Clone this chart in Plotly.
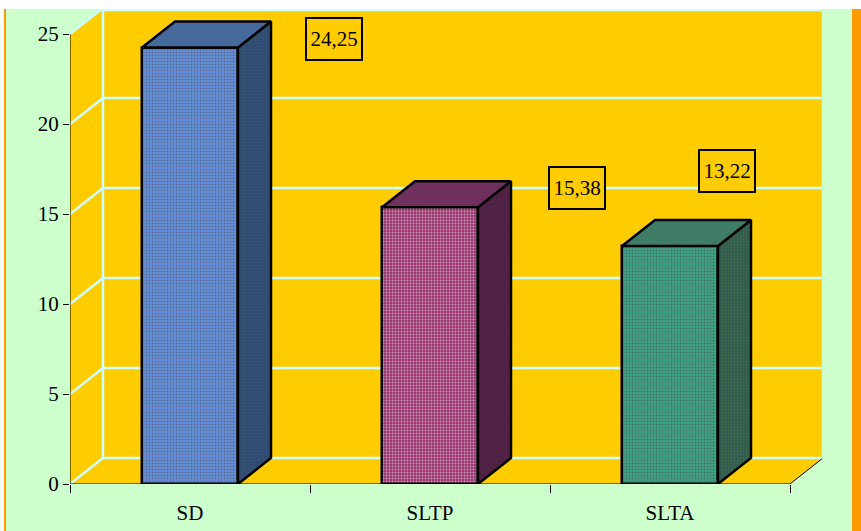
import plotly.graph_objects as go

# Data
categories = ["SD", "SLTP", "SLTA"]
values = [24.25, 15.38, 13.22]
y_ticks = [0, 5, 10, 15, 20, 25]

# Styling
front_colors = ["#6490DA", "#99366F", "#3FA386"]
front_dots = ["#4E96BC", "#A8458A", "#B8BE48"]
side_colors = ["#2F4A6E", "#4E2042", "#2E5C50"]
side_dots = ["#3C6488", "#602A54", "#5E7A48"]
top_colors = ["#46699B", "#70305E", "#3E7C66"]
label_dx = [0.60, 0.6125, 0.2375]    # label offset from bar centre (x units)
label_yshift = [8.5, 19, 75]         # label offset above bar value (px)

W, H = 861, 531
L, R, T, B = 70, 39, 9, 47
plot_w, plot_h = W - L - R, H - T - B
px_per_x = 240.0
px_per_y = 18.0
x0 = -0.5
x_max = x0 + plot_w / px_per_x
y_max = plot_h / px_per_y

# depth of the 3D box (px) converted to data units
DX = 33 / px_per_x
DY = 26 / px_per_y

WALL = "#FFCC00"
GRID = "#CCFFFF"
BG = "#CCFFCC"
ORANGE = "#FF9900"
FONT = "Liberation Serif, Times New Roman, serif"
FS = 21

n = len(categories)
x_end = x0 + n
wall_top = (plot_h - 1) / px_per_y

shapes = []


def poly(pts):
    return "M " + " L ".join(f"{a},{b}" for a, b in pts) + " Z"


# back wall
shapes.append(dict(type="rect", xref="x", yref="y", x0=x0 + DX, x1=x_end + DX,
                   y0=DY, y1=wall_top, fillcolor=WALL, line_width=0, layer="below"))
# side wall
shapes.append(dict(type="path", xref="x", yref="y",
                   path=poly([(x0, 0), (x0, y_ticks[-1]), (x0 + DX, y_ticks[-1] + DY), (x0 + DX, DY)]),
                   fillcolor=WALL, line_width=0, layer="below"))
# floor
shapes.append(dict(type="path", xref="x", yref="y",
                   path=poly([(x0, 0), (x_end, 0), (x_end + DX, DY), (x0 + DX, DY)]),
                   fillcolor=WALL, line_width=0, layer="below"))

# gridlines on back wall and side wall
for v in y_ticks:
    shapes.append(dict(type="line", xref="x", yref="y", x0=x0 + DX, x1=x_end + DX,
                       y0=v + DY, y1=v + DY, line=dict(color=GRID, width=2.5), layer="below"))
    shapes.append(dict(type="line", xref="x", yref="y", x0=x0, x1=x0 + DX,
                       y0=v, y1=v + DY, line=dict(color=GRID, width=2.5), layer="below"))
# wall edges
shapes.append(dict(type="line", xref="x", yref="y", x0=x0 + DX, x1=x0 + DX,
                   y0=DY, y1=y_max, line=dict(color=GRID, width=2.5), layer="below"))
shapes.append(dict(type="line", xref="x", yref="y", x0=x_end + DX, x1=x_end + DX,
                   y0=DY, y1=y_max, line=dict(color=GRID, width=2.5), layer="below"))
shapes.append(dict(type="line", xref="x", yref="y", x0=x0 + DX, x1=x_end + DX,
                   y0=wall_top, y1=wall_top, line=dict(color=GRID, width=2.5), layer="below"))
# floor right edge
shapes.append(dict(type="line", xref="x", yref="y", x0=x_end, x1=x_end + DX,
                   y0=0, y1=DY, line=dict(color="black", width=1), layer="below"))
# front axes
shapes.append(dict(type="line", xref="x", yref="y", x0=x0, x1=x0, y0=0, y1=y_ticks[-1],
                   line=dict(color="black", width=1), layer="below"))
shapes.append(dict(type="line", xref="x", yref="y", x0=x0, x1=x_end, y0=0, y1=0,
                   line=dict(color="black", width=1), layer="below"))


# page frame
def fx(p):
    return (p - L) / plot_w


def fy(p):
    return (H - B - p) / plot_h


for (a, b, c, d, col) in [(0, 0, W, T, "white"), (0, 0, 4, H, "white"),
                          (4, T, 6, H, ORANGE), (852, T, W, H, ORANGE)]:
    shapes.append(dict(type="rect", xref="paper", yref="paper", x0=fx(a), x1=fx(c),
                       y0=fy(d), y1=fy(b), fillcolor=col, line_width=0, layer="below"))

fig = go.Figure()

half = 0.2
LW = 2.5
# front faces
fig.add_trace(go.Bar(x=list(range(n)), y=values, width=2 * half,
                     marker=dict(color=front_colors, line=dict(color="black", width=LW),
                                 pattern=dict(shape=".", fgcolor=front_dots, size=3,
                                              solidity=0.3, fillmode="overlay")),
                     hoverinfo="skip", showlegend=False))

# side and top faces
for i, v in enumerate(values):
    side = [(i + half, 0), (i + half + DX, DY), (i + half + DX, v + DY), (i + half, v), (i + half, 0)]
    top = [(i - half, v), (i + half, v), (i + half + DX, v + DY), (i - half + DX, v + DY), (i - half, v)]
    fig.add_trace(go.Scatter(x=[p[0] for p in side], y=[p[1] for p in side],
                             mode="lines", fill="toself", fillcolor=side_colors[i],
                             fillpattern=dict(shape=".", fgcolor=side_dots[i], bgcolor=side_colors[i],
                                              size=3, solidity=0.3),
                             line=dict(color="black", width=LW),
                             hoverinfo="skip", showlegend=False))
    fig.add_trace(go.Scatter(x=[p[0] for p in top], y=[p[1] for p in top],
                             mode="lines", fill="toself", fillcolor=top_colors[i],
                             line=dict(color="black", width=LW),
                             hoverinfo="skip", showlegend=False))

annotations = []
for i, v in enumerate(values):
    annotations.append(dict(x=i + label_dx[i], y=v, xref="x", yref="y",
                            yshift=label_yshift[i], showarrow=False,
                            text=f"{v:.2f}".replace(".", ","),
                            font=dict(family=FONT, size=FS, color="black"),
                            width=54, height=40, align="center", valign="middle",
                            bgcolor=WALL, bordercolor="black", borderwidth=2, borderpad=0))

fig.update_layout(
    width=W, height=H,
    margin=dict(l=L, r=R, t=T, b=B, autoexpand=False),
    paper_bgcolor=BG, plot_bgcolor="rgba(0,0,0,0)",
    font=dict(family=FONT, size=FS, color="black"),
    shapes=shapes, annotations=annotations,
    hovermode=False, bargap=0,
    xaxis=dict(range=[x0, x_max], tickmode="array", tickvals=list(range(n)),
               ticktext=categories, ticks="", showgrid=False, zeroline=False,
               showline=False, fixedrange=True, ticklabelstandoff=14, automargin=False,
               minor=dict(tickmode="array", tickvals=[x0 + k for k in range(n + 1)],
                          ticks="outside", ticklen=8, tickcolor="black", tickwidth=1,
                          showgrid=False)),
    yaxis=dict(range=[0, y_max], tickmode="array", tickvals=y_ticks,
               ticks="outside", ticklen=6, tickcolor="black", tickwidth=1,
               showgrid=False, zeroline=False, showline=False, fixedrange=True,
               automargin=False),
)

fig.write_html("out.html", config=dict(displayModeBar=False))
